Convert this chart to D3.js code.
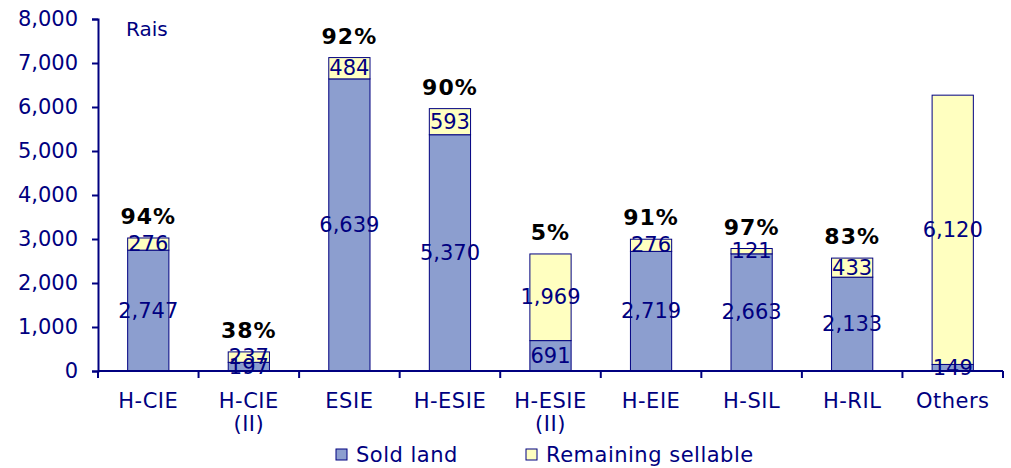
<!DOCTYPE html>
<html>
<head>
<meta charset="utf-8">
<script src="https://cdn.jsdelivr.net/npm/d3@7"></script>
<style>
body { margin: 0; background: #fff; }
svg { display: block; font-family: "DejaVu Sans", Verdana, sans-serif; }
</style>
</head>
<body>
<svg width="1011" height="468"></svg>
<script>
// chart values
var categories = ["H-CIE", "H-CIE\n(II)", "ESIE", "H-ESIE", "H-ESIE\n(II)", "H-EIE", "H-SIL", "H-RIL", "Others"];
var soldLand = [2747, 197, 6639, 5370, 691, 2719, 2663, 2133, 149];
var remaining = [276, 237, 484, 593, 1969, 276, 121, 433, 6120];
var pctLabels = ["94%", "38%", "92%", "90%", "5%", "91%", "97%", "83%", ""];
var yTicks = [0, 1000, 2000, 3000, 4000, 5000, 6000, 7000, 8000];
var seriesNames = ["Sold land", "Remaining sellable"];

var navy = "#000080";
var colors = ["#8c9ecf", "#ffffc0"];

var svg = d3.select("svg");

var x = d3.scaleBand().domain(d3.range(categories.length)).range([98, 1003]);
var y = d3.scaleLinear().domain([0, 8000]).range([371, 19]);
var barW = x.bandwidth() * 0.41;

var rows = categories.map(function (c, i) {
    return { i: i, cat: c, sold: soldLand[i], rem: remaining[i], pct: pctLabels[i] };
});

// bars
var g = svg.append("g");
rows.forEach(function (d) {
    var cx = x(d.i) + x.bandwidth() / 2;
    g.append("rect")
        .attr("x", cx - barW / 2).attr("width", barW)
        .attr("y", y(d.sold)).attr("height", y(0) - y(d.sold))
        .attr("fill", colors[0]).attr("stroke", navy).attr("stroke-width", 1);
    g.append("rect")
        .attr("x", cx - barW / 2).attr("width", barW)
        .attr("y", y(d.sold + d.rem)).attr("height", y(d.sold) - y(d.sold + d.rem))
        .attr("fill", colors[1]).attr("stroke", navy).attr("stroke-width", 1);
});

// axes
var yAxis = d3.axisLeft(y).tickValues(yTicks).tickSize(6).tickPadding(14)
    .tickFormat(d3.format(","));
var ya = svg.append("g").attr("transform", "translate(98,0)").call(yAxis);
ya.select(".domain").attr("stroke", navy).attr("stroke-width", 2);
ya.selectAll(".tick line").attr("stroke", navy).attr("stroke-width", 2);
ya.selectAll(".tick text").attr("fill", navy).style("font-size", "21px")
    .style("font-family", "DejaVu Sans, Verdana, sans-serif");

var xa = svg.append("g").attr("transform", "translate(0,371)");
xa.append("line").attr("x1", 98).attr("x2", 1003).attr("stroke", navy).attr("stroke-width", 2);
d3.range(categories.length + 1).forEach(function (i) {
    var px = i < categories.length ? x(i) : x.range()[1];
    xa.append("line").attr("x1", px).attr("x2", px).attr("y1", 0).attr("y2", 7)
        .attr("stroke", navy).attr("stroke-width", 2);
});
rows.forEach(function (d) {
    var t = xa.append("text").attr("x", x(d.i) + x.bandwidth() / 2).attr("y", 37)
        .attr("text-anchor", "middle").attr("fill", navy).style("font-size", "21px")
        .style("letter-spacing", "0.5px");
    d.cat.split("\n").forEach(function (s, k) {
        t.append("tspan").attr("x", x(d.i) + x.bandwidth() / 2).attr("dy", k ? 23 : 0).text(s);
    });
});

// value labels
var fmt = d3.format(",");
rows.forEach(function (d) {
    var cx = x(d.i) + x.bandwidth() / 2;
    g.append("text").attr("x", cx).attr("y", (y(0) + y(d.sold)) / 2 + 7)
        .attr("text-anchor", "middle").attr("fill", navy).style("font-size", "21px")
        .text(fmt(d.sold));
    g.append("text").attr("x", cx).attr("y", (y(d.sold) + y(d.sold + d.rem)) / 2 + 7)
        .attr("text-anchor", "middle").attr("fill", navy).style("font-size", "21px")
        .text(fmt(d.rem));
    if (d.pct) {
        g.append("text").attr("x", cx).attr("y", y(d.sold + d.rem) - 14)
            .attr("text-anchor", "middle").attr("fill", "#000").style("font-size", "22px")
            .style("font-weight", "bold").style("letter-spacing", "1px").text(d.pct);
    }
});

// unit
svg.append("text").attr("x", 126).attr("y", 36).attr("fill", navy)
    .style("font-size", "20px").text("Rais");

// legend
var legX = [336, 526];
seriesNames.forEach(function (n, i) {
    svg.append("rect").attr("x", legX[i]).attr("y", 449).attr("width", 11).attr("height", 11)
        .attr("fill", colors[i]).attr("stroke", navy).attr("stroke-width", 1);
    svg.append("text").attr("x", legX[i] + 20).attr("y", 462).attr("fill", navy)
        .style("font-size", "21px").style("letter-spacing", "0.5px").text(n);
});
</script>
</body>
</html>
